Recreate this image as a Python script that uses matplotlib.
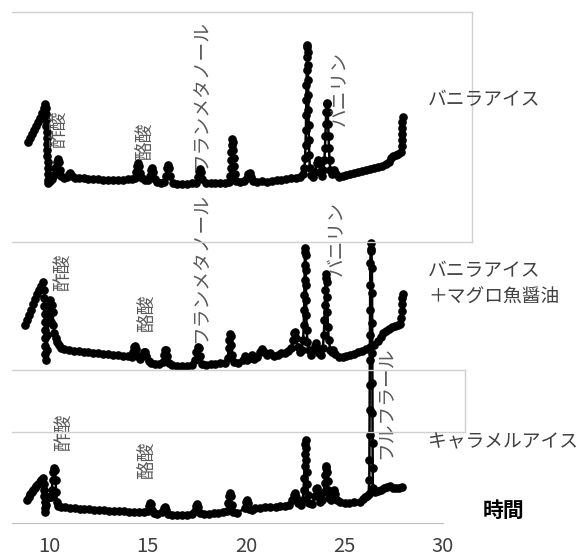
import matplotlib
matplotlib.use("Agg")
import matplotlib.pyplot as plt
from matplotlib.lines import Line2D

plt.rcParams['font.family'] = ['Noto Sans CJK JP', 'DejaVu Sans']

# バニラアイス
time_vanilla = [8.93, 9.03, 9.13, 9.23, 9.33, 9.43, 9.53, 9.63, 9.73, 9.81,
                9.84, 9.85, 9.86, 9.87, 9.88, 9.89, 9.90, 9.91, 9.92, 9.93, 9.94, 9.95, 9.96, 9.97,
                10.05, 10.15, 10.25, 10.32, 10.38, 10.44, 10.5, 10.56, 10.62, 10.75, 10.9, 11.0, 11.08, 11.15, 11.3,
                11.5, 11.75, 12.0, 12.25, 12.5, 12.75, 13.0, 13.25, 13.5, 13.75, 14.0, 14.2, 14.35,
                14.42, 14.47, 14.52, 14.57, 14.62, 14.7, 14.85, 15.0,
                15.12, 15.18, 15.24, 15.3, 15.36, 15.5, 15.7, 15.85,
                15.93, 15.99, 16.04, 16.1, 16.16, 16.3, 16.5, 16.75, 17.0, 17.25, 17.45,
                17.56, 17.62, 17.67, 17.72, 17.78, 17.95, 18.2, 18.45, 18.7, 18.95, 19.12,
                19.19, 19.22, 19.24, 19.26, 19.28, 19.3, 19.33, 19.35, 19.37, 19.39, 19.42, 19.5,
                19.7, 19.9, 20.05, 20.12, 20.18, 20.25, 20.35, 20.55, 20.8, 21.05, 21.3, 21.55, 21.8, 22.05, 22.3, 22.55, 22.75, 22.88,
                22.96, 23.0, 23.02, 23.04, 23.05, 23.06, 23.07, 23.08, 23.09, 23.1, 23.12, 23.13, 23.14, 23.15, 23.16, 23.17, 23.18, 23.19, 23.21, 23.24, 23.3, 23.42,
                23.52, 23.58, 23.64, 23.7, 23.76, 23.85,
                23.93, 23.98, 24.01, 24.03, 24.05, 24.07, 24.1, 24.13, 24.15, 24.17, 24.19, 24.21, 24.24, 24.28, 24.36, 24.42, 24.48, 24.55, 24.7,
                24.9, 25.1, 25.3, 25.5, 25.7, 25.9, 26.1, 26.3, 26.5, 26.7, 26.9, 27.1, 27.25, 27.38, 27.48, 27.6, 27.72, 27.85,
                27.9, 27.91, 27.92, 27.93, 27.94, 27.95]
signal_vanilla = [48, 52, 56, 60, 64, 68, 72, 77, 82, 86,
                  82, 76, 70, 64, 58, 52, 46, 40, 34, 28, 22, 16, 10, 7,
                  9, 11, 15, 22, 28, 31, 28, 20, 14, 12, 13, 16, 17, 14, 12,
                  12, 12, 11, 11, 11, 10, 10, 10, 10, 10, 11, 11, 12,
                  18, 24, 27, 24, 17, 12, 10, 10,
                  14, 20, 22, 18, 11, 8, 7, 8,
                  14, 22, 25, 22, 14, 7, 6, 6, 6, 7, 7,
                  13, 19, 21, 18, 11, 7, 7, 7, 7, 7, 8,
                  14, 22, 30, 38, 45, 51, 48, 40, 32, 24, 16, 9,
                  8, 9, 12, 16, 17, 13, 9, 8, 9, 8, 9, 10, 10, 11, 12, 12, 13, 16,
                  22, 32, 45, 60, 75, 90, 105, 120, 133, 143, 145, 138, 125, 110, 95, 80, 65, 50, 35, 22, 15, 13,
                  18, 27, 30, 27, 18, 14,
                  20, 30, 42, 54, 66, 78, 86, 87, 78, 66, 54, 42, 30, 20, 16, 19, 20, 16, 13,
                  14, 15, 16, 17, 18, 19, 20, 21, 22, 23, 24, 26, 28, 32, 34, 35, 36, 38,
                  44, 50, 56, 62, 68, 73]

# バニラアイス＋マグロ魚醤油
time_tuna = [8.78, 8.88, 8.98, 9.08, 9.18, 9.28, 9.38, 9.48, 9.58, 9.68,
             9.74, 9.75, 9.76, 9.77, 9.78, 9.79, 9.8, 9.81, 9.82, 9.83,
             9.88, 9.92, 9.96, 10.0, 10.03, 10.06, 10.09, 10.12, 10.15, 10.18, 10.22, 10.27, 10.33, 10.4, 10.5, 10.62, 10.75,
             11.0, 11.25, 11.5, 11.75, 12.0, 12.25, 12.5, 12.75, 13.0, 13.25, 13.5, 13.75, 14.0, 14.2,
             14.28, 14.33, 14.38, 14.43, 14.5, 14.62, 14.77, 14.83, 14.88, 14.93, 15.05, 15.2,
             15.4, 15.6, 15.8, 15.86, 15.91, 15.96, 16.01, 16.08, 16.25, 16.5, 16.75, 17.0, 17.25,
             17.42, 17.48, 17.54, 17.6, 17.66, 17.75, 17.95, 18.2, 18.45, 18.7, 18.95, 19.08,
             19.12, 19.15, 19.18, 19.22, 19.25, 19.29, 19.4, 19.6,
             19.85, 19.95, 20.05, 20.2, 20.3, 20.4, 20.55, 20.7, 20.81, 20.92, 21.05, 21.22, 21.4, 21.6, 21.8, 21.98, 22.15,
             22.3, 22.38, 22.44, 22.5, 22.55, 22.62, 22.72, 22.82,
             22.9, 22.93, 22.95, 22.96, 22.97, 22.98, 22.99, 23.01, 23.02, 23.03, 23.04, 23.05, 23.06, 23.08, 23.12, 23.2, 23.3, 23.4,
             23.48, 23.55, 23.62, 23.7, 23.8,
             23.9, 23.95, 23.98, 24.0, 24.02, 24.04, 24.07, 24.09, 24.11, 24.13, 24.16, 24.2, 24.28,
             24.36, 24.42, 24.5, 24.7, 24.9, 25.1, 25.3, 25.5, 25.7, 25.9, 26.1, 26.3, 26.5, 26.7, 26.85, 26.95, 27.1, 27.25, 27.4, 27.55, 27.7, 27.82,
             27.87, 27.9, 27.92, 27.94, 27.96]
signal_tuna = [45, 50, 55, 60, 66, 71, 76, 80, 84, 88,
               80, 72, 64, 56, 48, 40, 32, 24, 16, 10,
               20, 35, 48, 65, 70, 58, 48, 58, 65, 58, 45, 37, 32, 28, 25, 22, 21,
               20, 19, 19, 18, 18, 17, 17, 16, 16, 15, 15, 14, 14, 13,
               18, 23, 24, 21, 14, 11, 15, 18, 18, 14, 9, 7,
               6, 6, 8, 15, 20, 20, 14, 7, 5, 4, 4, 4, 5,
               10, 18, 23, 22, 14, 6, 5, 6, 6, 7, 7, 12,
               22, 30, 36, 34, 25, 15, 8, 7,
               10, 14, 10, 12, 15, 11, 13, 18, 21, 18, 15, 17, 14, 15, 17, 17, 19,
               22, 30, 37, 38, 32, 23, 18, 20,
               30, 45, 60, 75, 90, 105, 118, 122, 115, 100, 85, 70, 55, 40, 28, 20, 15, 20,
               24, 27, 22, 17, 15,
               22, 35, 50, 65, 80, 92, 96, 88, 73, 58, 43, 30, 20,
               18, 20, 16, 13, 13, 14, 15, 16, 18, 19, 21, 23, 25, 29, 33, 37, 39, 41, 43, 44, 45, 46,
               52, 59, 66, 72, 76]

# キャラメルアイス
time_caramel = [8.88, 8.96, 9.04, 9.12, 9.2, 9.28, 9.36, 9.44, 9.52, 9.6, 9.68,
                9.72, 9.74, 9.76, 9.78, 9.8, 9.82,
                9.84, 9.9, 9.96, 10.02, 10.08, 10.14, 10.18, 10.22, 10.26, 10.3, 10.33, 10.36, 10.4, 10.48, 10.6,
                10.8, 11.05, 11.3, 11.55, 11.8, 12.05, 12.3, 12.55, 12.8, 13.05, 13.3, 13.55, 13.8, 14.05, 14.3, 14.55, 14.8, 15.0,
                15.06, 15.12, 15.18, 15.24, 15.35, 15.5,
                15.75, 15.83, 15.89, 15.95, 16.05, 16.25, 16.5, 16.75, 17.0, 17.25, 17.4,
                17.46, 17.52, 17.58, 17.65, 17.85, 18.1, 18.35, 18.6, 18.85, 19.05,
                19.1, 19.14, 19.19, 19.24, 19.28, 19.35, 19.55,
                19.95, 20.0, 20.05, 20.1, 20.16, 20.3, 20.46, 20.7, 20.95, 21.22, 21.5, 21.75, 22.0, 22.2, 22.35,
                22.42, 22.49, 22.56, 22.65, 22.78, 22.88,
                22.92, 22.95, 22.97, 22.99, 23.01, 23.03, 23.05, 23.07, 23.09, 23.11, 23.14, 23.22, 23.35,
                23.5, 23.56, 23.62, 23.68, 23.78, 23.88,
                23.95, 23.99, 24.02, 24.05, 24.08, 24.11, 24.14, 24.17, 24.22, 24.32,
                24.41, 24.47, 24.53, 24.62, 24.77, 25.0, 25.25, 25.5, 25.79, 25.95, 26.05, 26.15, 26.22,
                26.26, 26.265, 26.27, 26.275, 26.28, 26.285, 26.29, 26.295, 26.3, 26.31, 26.33, 26.35,
                26.37, 26.39, 26.4, 26.405, 26.41, 26.415, 26.42, 26.425, 26.43, 26.44,
                26.55, 26.7, 26.85, 27.0, 27.15, 27.3, 27.45, 27.6, 27.75, 27.9]
signal_caramel = [23, 26, 29, 31, 33, 35, 37, 39, 41, 43, 45,
                  39, 33, 27, 21, 15, 11,
                  18, 25, 26, 26, 26, 33, 43, 51, 55, 53, 43, 31, 21, 17, 16,
                  16, 15, 15, 14, 14, 14, 13, 13, 13, 12, 12, 12, 12, 11, 11, 11, 11, 12,
                  17, 20, 19, 13, 10, 9,
                  11, 15, 16, 13, 9, 8, 8, 8, 8, 9, 12,
                  17, 19, 16, 10, 9, 9, 10, 10, 11, 12,
                  20, 27, 30, 27, 18, 11, 10,
                  15, 21, 23, 20, 14, 13, 15, 15, 16, 16, 16, 17, 17, 18, 23,
                  28, 30, 26, 20, 18, 23,
                  33, 45, 57, 69, 79, 83, 75, 63, 51, 39, 28, 20, 19,
                  27, 34, 35, 29, 21, 23,
                  31, 40, 48, 55, 57, 51, 42, 33, 25, 23,
                  29, 33, 29, 23, 21, 20, 20, 21, 21, 24, 26, 27, 29,
                  43, 63, 88, 113, 138, 163, 188, 213, 238, 260, 274, 280,
                  272, 255, 230, 200, 170, 140, 110, 80, 55, 35,
                  31, 32, 33, 35, 36, 37, 35, 35, 35, 36]

# peak labels: (text, time, signal)
labels_vanilla = [("酢酸", 10.5, 61), ("酪酸", 14.87, 49),
                  ("フランメタノール", 17.7, 95), ("バニリン", 24.77, 102)]
labels_tuna = [("酢酸", 10.66, 98), ("酪酸", 14.97, 57),
               ("フランメタノール", 17.7, 102), ("バニリン", 24.57, 132)]
labels_caramel = [("酢酸", 10.76, 91), ("酪酸", 14.97, 63),
                  ("フルフラール", 27.06, 120)]

x_ticks = [10, 15, 20, 25, 30]

W, H = 582, 555
fig = plt.figure(figsize=(W / 100, H / 100), dpi=100)

def px_line(x0, y0, x1, y1, color='#d0d0d0'):
    fig.add_artist(Line2D([x0 / W, x1 / W], [1 - y0 / H, 1 - y1 / H],
                          transform=fig.transFigure, color=color, lw=1))

# chart borders
px_line(12, 12, 472, 12)
px_line(472, 12, 472, 242)
px_line(12, 242, 472, 242)
px_line(12, 370, 465, 370)
px_line(465, 370, 465, 432)
px_line(12, 432, 465, 432)

traces = [(time_vanilla, signal_vanilla, labels_vanilla, 190),
          (time_tuna, signal_tuna, labels_tuna, 370),
          (time_caramel, signal_caramel, labels_caramel, 523)]

for i, (t, s, labels, base) in enumerate(traces):
    assert len(t) == len(s)
    ax = fig.add_axes([12 / W, (H - base) / H, 431 / W, base / H])
    ax.patch.set_alpha(0)
    ax.set_xlim(8.12, 30)
    ax.set_ylim(0, base)
    ax.plot(t, s, color='black', lw=1.8, marker='o', ms=5.2, clip_on=False)
    for name, lt, ly in labels:
        ax.text(lt, ly, name, rotation=90, ha='center', va='center',
                fontsize=13.5, color='#595959')
    for sp in ax.spines.values():
        sp.set_visible(False)
    ax.set_yticks([])
    if i == 2:
        ax.spines['bottom'].set_visible(True)
        ax.spines['bottom'].set_color('#bfbfbf')
        ax.set_xticks(x_ticks)
        ax.tick_params(axis='x', length=0, pad=9, labelsize=14.5, labelcolor='#404040')
    else:
        ax.set_xticks([])

fig.text(428 / W, 1 - 100 / H, "バニラアイス", fontsize=13.5, color='#404040', va='center')
fig.text(428 / W, 1 - 284 / H, "バニラアイス\n＋マグロ魚醤油", fontsize=13.5, color='#404040',
         va='center', linespacing=1.3)
fig.text(428 / W, 1 - 442 / H, "キャラメルアイス", fontsize=13.5, color='#404040', va='center')
fig.text(504 / W, 1 - 510 / H, "時間", fontsize=15, fontweight='bold', color='black',
         ha='center', va='center')

fig.savefig("out.png", dpi=100)
